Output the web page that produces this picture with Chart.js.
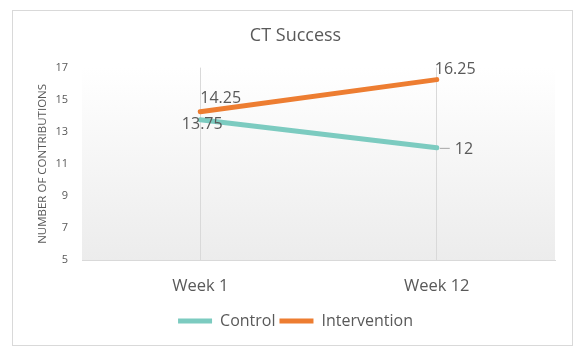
<!DOCTYPE html>
<html>
<head>
<meta charset="utf-8">
<script src="https://cdn.jsdelivr.net/npm/chart.js@4"></script>
<style>
  body { margin: 0; background: #fff; }
  #wrap { width: 584px; height: 356px; }
</style>
</head>
<body>
<div id="wrap"><canvas id="ctChart" width="584" height="356"></canvas></div>
<script>
// chart data
const weeks = ['Week 1', 'Week 12'];
const controlValues = [13.75, 12];
const interventionValues = [14.25, 16.25];
const yTicks = [5, 7, 9, 11, 13, 15, 17];

const textColor = '#595959';
const fontName = "'Open Sans', sans-serif";

// frame around the whole chart + shaded plot area
const frame = {
    id: 'frame',
    beforeDraw(chart) {
        const c = chart.ctx;
        const a = chart.chartArea;
        c.save();
        c.strokeStyle = '#d9d9d9';
        c.lineWidth = 1;
        c.strokeRect(12.5, 10.5, 560, 335);
        const g = c.createLinearGradient(0, a.top, 0, a.bottom);
        g.addColorStop(0, '#ffffff');
        g.addColorStop(1, '#ececec');
        c.fillStyle = g;
        c.fillRect(a.left, a.top, a.right - a.left, a.bottom - a.top);
        c.restore();
    }
};

// value labels next to each point
const valueLabels = {
    id: 'valueLabels',
    afterDatasetsDraw(chart, args, opts) {
        const c = chart.ctx;
        c.save();
        c.font = '16px ' + fontName;
        c.fillStyle = textColor;
        c.textBaseline = 'middle';
        chart.data.datasets.forEach((ds, i) => {
            const meta = chart.getDatasetMeta(i);
            const place = opts.place[i];
            meta.data.forEach((pt, j) => {
                const p = place[j];
                const txt = String(ds.data[j]);
                if (p.leader) {
                    c.strokeStyle = '#a6a6a6';
                    c.lineWidth = 1;
                    c.beginPath();
                    c.moveTo(pt.x + 3, pt.y + 0.5);
                    c.lineTo(pt.x + 13, pt.y + 0.5);
                    c.stroke();
                }
                c.textAlign = p.align;
                c.fillText(txt, pt.x + p.dx, pt.y + p.dy);
            });
        });
        c.restore();
    }
};

new Chart(document.getElementById('ctChart'), {
    type: 'line',
    data: {
        labels: weeks,
        datasets: [
            {
                label: 'Control',
                data: controlValues,
                borderColor: '#7ccbc0',
                backgroundColor: '#7ccbc0',
                borderWidth: 5,
                borderCapStyle: 'round',
                pointRadius: 0,
                tension: 0
            },
            {
                label: 'Intervention',
                data: interventionValues,
                borderColor: '#ed7d31',
                backgroundColor: '#ed7d31',
                borderWidth: 5,
                borderCapStyle: 'round',
                pointRadius: 0,
                tension: 0
            }
        ]
    },
    options: {
        responsive: false,
        animation: false,
        layout: { padding: { left: 36, right: 29, top: 25, bottom: 17 } },
        scales: {
            x: {
                offset: true,
                afterFit(axis) { axis.height -= 3; },
                grid: { color: '#d9d9d9', drawTicks: false, offset: false },
                border: { color: '#d9d9d9' },
                ticks: { color: textColor, font: { family: fontName, size: 16.5 }, padding: 16 }
            },
            y: {
                min: 5,
                max: 17,
                afterBuildTicks(axis) { axis.ticks = yTicks.map(v => ({ value: v })); },
                afterFit(axis) { axis.width = 46; },
                grid: { display: false, drawTicks: false },
                border: { display: false },
                ticks: { color: textColor, font: { family: fontName, size: 11 }, padding: 14 },
                title: {
                    display: true,
                    text: 'NUMBER OF CONTRIBUTIONS',
                    color: textColor,
                    font: { family: fontName, size: 11.5 },
                    padding: { top: 0, bottom: 3 }
                }
            }
        },
        plugins: {
            title: {
                display: true,
                text: 'CT Success',
                color: textColor,
                font: { family: fontName, size: 18, weight: 'normal' },
                padding: { top: 0, bottom: 21 }
            },
            legend: {
                position: 'bottom',
                labels: {
                    color: textColor,
                    font: { family: fontName, size: 16 },
                    usePointStyle: true,
                    pointStyle: 'line',
                    pointStyleWidth: 34,
                    padding: 4
                }
            },
            tooltip: { enabled: false },
            valueLabels: {
                place: [
                    [{ dx: 2, dy: 5, align: 'center' }, { dx: 18, dy: 2, align: 'left', leader: true }],
                    [{ dx: 0, dy: -13, align: 'left' }, { dx: -2, dy: -10, align: 'left' }]
                ]
            }
        }
    },
    plugins: [frame, valueLabels]
});
</script>
</body>
</html>
